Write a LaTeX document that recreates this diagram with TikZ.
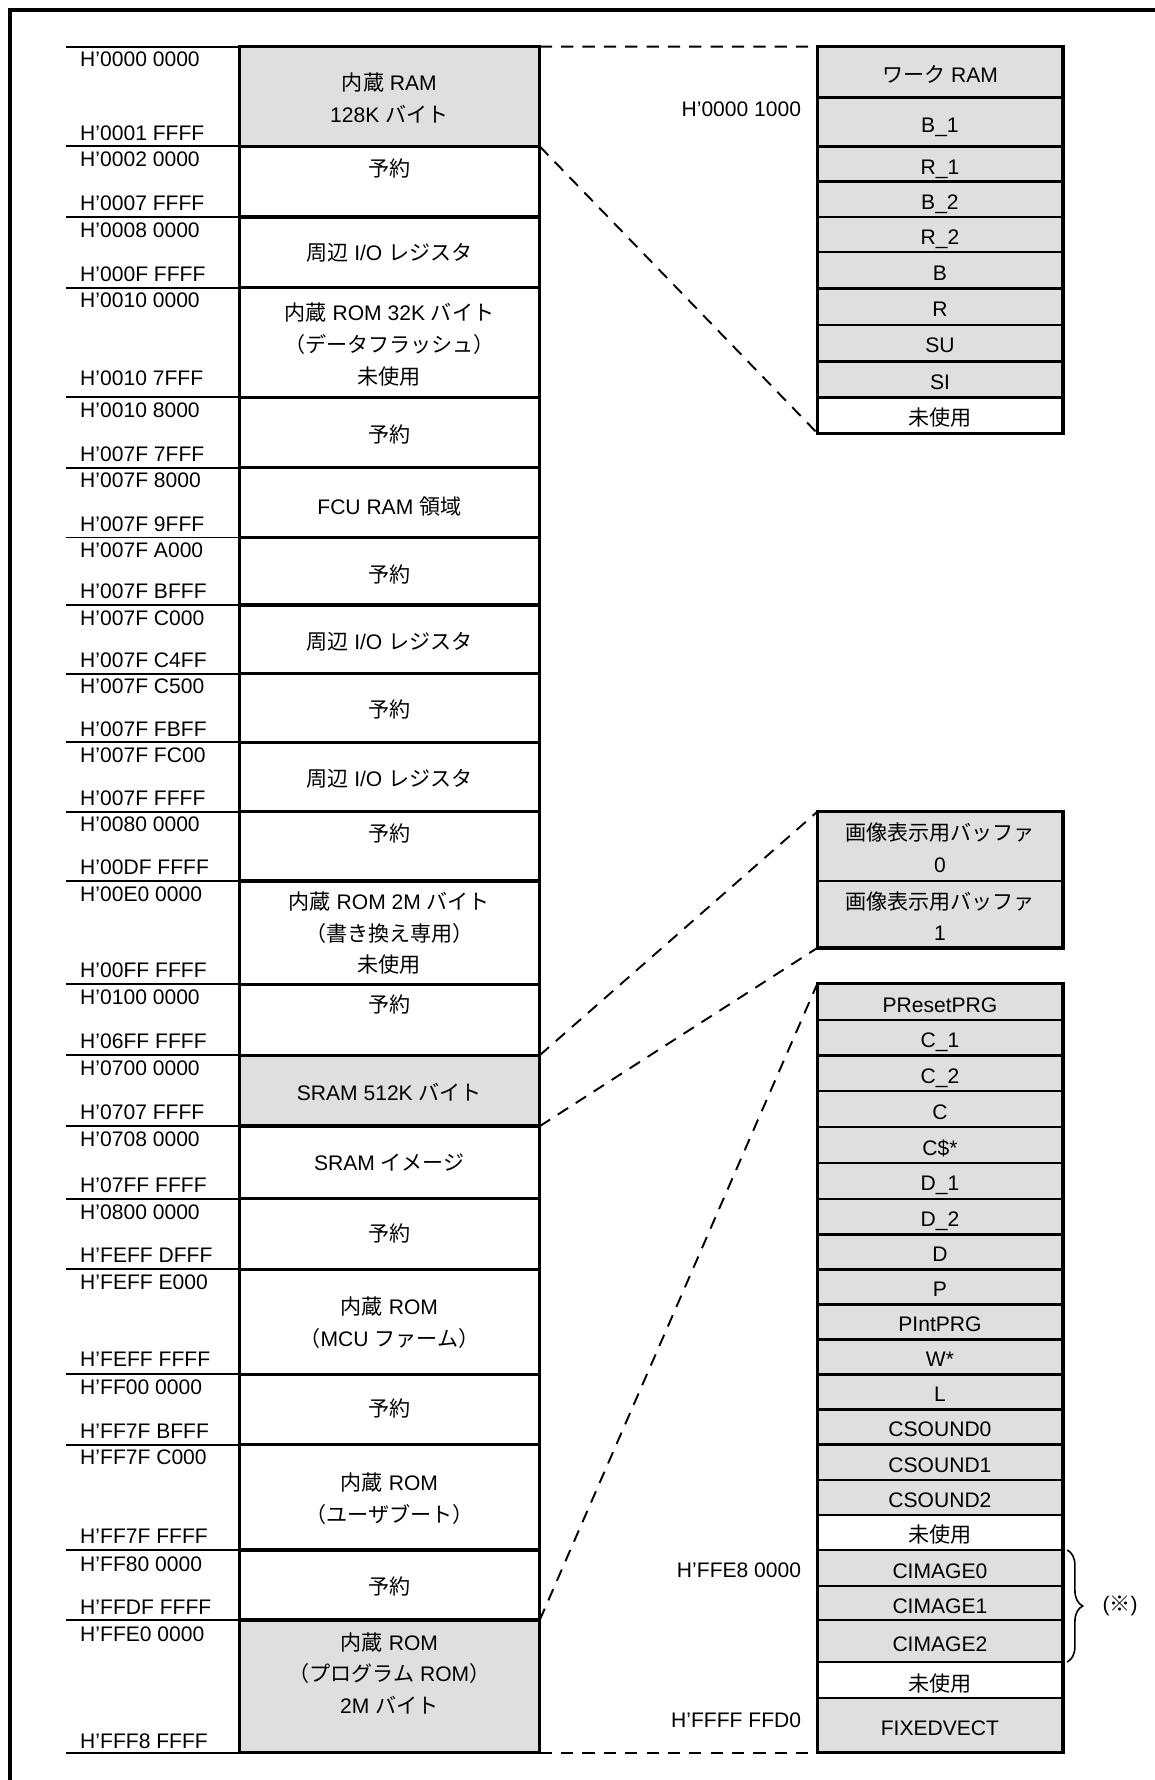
\documentclass[tikz,border=0pt]{standalone}
\usepackage{fontspec}
\setmainfont{Liberation Sans}
\newfontfamily\jpfont{Noto Sans CJK JP}
\newcommand{\jp}[1]{{\jpfont #1}}
\usetikzlibrary{fit,decorations.pathreplacing}
\definecolor{memgray}{RGB}{223,223,223}
\tikzset{
	memfont/.style={font=\fontsize{13.2pt}{19.9pt}\selectfont},
	area/.style={rectangle, draw, line width=2.1pt, inner sep=0pt, outer sep=0pt},
	areatext/.style={memfont, align=center, inner sep=0pt},
	slot/.style={rectangle, draw, line width=1.5pt, inner sep=0pt, outer sep=0pt, fill=memgray},
	freeslot/.style={slot, fill=white},
	slottext/.style={memfont, inner sep=0pt, text height=9.45pt, text depth=0pt},
	outline/.style={rectangle, draw, line width=2.1pt, inner sep=0pt, outer sep=0pt},
	addr/.style={memfont, anchor=base west, inner sep=0pt},
	raddr/.style={memfont, anchor=base east, inner sep=0pt},
	addrrule/.style={line width=1.2pt},
	frame/.style={line width=2.5pt},
	zoomline/.style={line width=1.2pt, dash pattern=on 0.27cm off 0.2cm},
	bracket/.style={line width=1pt, decorate, decoration={brace, amplitude=0.34cm}}
}
\begin{document}
\begin{tikzpicture}[x=0.025cm, y=-0.025cm]
	\useasboundingbox (0,0) rectangle (1017,1568);
	\draw[frame] (1017,8.8) -| (8.5,1568);

	% address rules left of the map
	\draw[addrrule] (58,41) -- (211,41) (58,129) -- (211,129) (58,191) -- (211,191) (58,253.5) -- (211,253.5)
		(58,350) -- (211,350) (58,412) -- (211,412) (58,473.5) -- (211,473.5) (58,533) -- (211,533)
		(58,593.5) -- (211,593.5) (58,654) -- (211,654) (58,715) -- (211,715) (58,776) -- (211,776)
		(58,867) -- (211,867) (58,929.5) -- (211,929.5) (58,992) -- (211,992) (58,1056) -- (211,1056)
		(58,1118) -- (211,1118) (58,1210.5) -- (211,1210.5) (58,1272.5) -- (211,1272.5) (58,1365.5) -- (211,1365.5)
		(58,1427) -- (211,1427) (58,1544) -- (211,1544);

	% memory map
	\node (ram) [area, fill=memgray, fit={(211,41) (475.5,129)}] {};
	\node (rsv1) [area, fit={(211,129) (475.5,191)}] {};
	\node (io1) [area, fit={(211,191) (475.5,253.5)}] {};
	\node (dflash) [area, fit={(211,253.5) (475.5,350)}] {};
	\node (rsv2) [area, fit={(211,350) (475.5,412)}] {};
	\node (fcu) [area, fit={(211,412) (475.5,473.5)}] {};
	\node (rsv3) [area, fit={(211,473.5) (475.5,533)}] {};
	\node (io2) [area, fit={(211,533) (475.5,593.5)}] {};
	\node (rsv4) [area, fit={(211,593.5) (475.5,654)}] {};
	\node (io3) [area, fit={(211,654) (475.5,715)}] {};
	\node (rsv5) [area, fit={(211,715) (475.5,776)}] {};
	\node (romtwo) [area, fit={(211,776) (475.5,867)}] {};
	\node (rsv6) [area, fit={(211,867) (475.5,929.5)}] {};
	\node (sram) [area, fill=memgray, fit={(211,929.5) (475.5,992)}] {};
	\node (sramimg) [area, fit={(211,992) (475.5,1056)}] {};
	\node (rsv7) [area, fit={(211,1056) (475.5,1118)}] {};
	\node (mcurom) [area, fit={(211,1118) (475.5,1210.5)}] {};
	\node (rsv8) [area, fit={(211,1210.5) (475.5,1272.5)}] {};
	\node (bootrom) [area, fit={(211,1272.5) (475.5,1365.5)}] {};
	\node (rsv9) [area, fit={(211,1365.5) (475.5,1427)}] {};
	\node (prgrom) [area, fill=memgray, fit={(211,1427) (475.5,1544)}] {};

	\node (ramtxt) [areatext] at (343,86) {\jp{内蔵} RAM\\128K \jp{バイト}};
	\node (rsv1txt) [areatext] at (343,148) {\jp{予約}};
	\node (io1txt) [areatext] at (343,223) {\jp{周辺} I/O \jp{レジスタ}};
	\node (dflashtxt) [areatext] at (343,303.5) {\jp{内蔵} ROM 32K \jp{バイト}\\\jp{（データフラッシュ）}\\\jp{未使用}};
	\node (rsv2txt) [areatext] at (343,383) {\jp{予約}};
	\node (fcutxt) [areatext] at (343,446) {FCU RAM \jp{領域}};
	\node (rsv3txt) [areatext] at (343,506) {\jp{予約}};
	\node (io2txt) [areatext] at (343,565) {\jp{周辺} I/O \jp{レジスタ}};
	\node (rsv4txt) [areatext] at (343,625) {\jp{予約}};
	\node (io3txt) [areatext] at (343,686) {\jp{周辺} I/O \jp{レジスタ}};
	\node (rsv5txt) [areatext] at (343,734) {\jp{予約}};
	\node (romtwotxt) [areatext] at (343,822) {\jp{内蔵} ROM 2M \jp{バイト}\\\jp{（書き換え専用）}\\\jp{未使用}};
	\node (rsv6txt) [areatext] at (343,885) {\jp{予約}};
	\node (sramtxt) [areatext] at (343,962) {SRAM 512K \jp{バイト}};
	\node (sramimgtxt) [areatext] at (343,1024) {SRAM \jp{イメージ}};
	\node (rsv7txt) [areatext] at (343,1087) {\jp{予約}};
	\node (mcuromtxt) [areatext] at (343,1165) {\jp{内蔵} ROM\\\jp{（}MCU \jp{ファーム）}};
	\node (rsv8txt) [areatext] at (343,1241) {\jp{予約}};
	\node (bootromtxt) [areatext] at (343,1320) {\jp{内蔵} ROM\\\jp{（ユーザブート）}};
	\node (rsv9txt) [areatext] at (343,1397.5) {\jp{予約}};
	\node (prgromtxt) [areatext] at (343,1474) {\jp{内蔵} ROM\\\jp{（プログラム} ROM\jp{）}\\2M \jp{バイト}};

	% start and end addresses
	\node (a1s) [addr] at (70.4,58.8) {H’0000 0000};
	\node (a1e) [addr] at (70.4,123.5) {H’0001 FFFF};
	\node (a2s) [addr] at (70.4,146.8) {H’0002 0000};
	\node (a2e) [addr] at (70.4,185.5) {H’0007 FFFF};
	\node (a3s) [addr] at (70.4,208.8) {H’0008 0000};
	\node (a3e) [addr] at (70.4,248) {H’000F FFFF};
	\node (a4s) [addr] at (70.4,271.3) {H’0010 0000};
	\node (a4e) [addr] at (70.4,340) {H’0010 7FFF};
	\node (a5s) [addr] at (70.4,367.8) {H’0010 8000};
	\node (a5e) [addr] at (70.4,406.5) {H’007F 7FFF};
	\node (a6s) [addr] at (70.4,429.8) {H’007F 8000};
	\node (a6e) [addr] at (70.4,468) {H’007F 9FFF};
	\node (a7s) [addr] at (70.4,491.3) {H’007F A000};
	\node (a7e) [addr] at (70.4,527.5) {H’007F BFFF};
	\node (a8s) [addr] at (70.4,550.8) {H’007F C000};
	\node (a8e) [addr] at (70.4,588) {H’007F C4FF};
	\node (a9s) [addr] at (70.4,611.3) {H’007F C500};
	\node (a9e) [addr] at (70.4,648.5) {H’007F FBFF};
	\node (a10s) [addr] at (70.4,671.8) {H’007F FC00};
	\node (a10e) [addr] at (70.4,709.5) {H’007F FFFF};
	\node (a11s) [addr] at (70.4,732.8) {H’0080 0000};
	\node (a11e) [addr] at (70.4,770.5) {H’00DF FFFF};
	\node (a12s) [addr] at (70.4,793.8) {H’00E0 0000};
	\node (a12e) [addr] at (70.4,861.5) {H’00FF FFFF};
	\node (a13s) [addr] at (70.4,884.8) {H’0100 0000};
	\node (a13e) [addr] at (70.4,924) {H’06FF FFFF};
	\node (a14s) [addr] at (70.4,947.3) {H’0700 0000};
	\node (a14e) [addr] at (70.4,986.5) {H’0707 FFFF};
	\node (a15s) [addr] at (70.4,1009.8) {H’0708 0000};
	\node (a15e) [addr] at (70.4,1050.5) {H’07FF FFFF};
	\node (a16s) [addr] at (70.4,1073.8) {H’0800 0000};
	\node (a16e) [addr] at (70.4,1112.5) {H’FEFF DFFF};
	\node (a17s) [addr] at (70.4,1135.8) {H’FEFF E000};
	\node (a17e) [addr] at (70.4,1204) {H’FEFF FFFF};
	\node (a18s) [addr] at (70.4,1228.3) {H’FF00 0000};
	\node (a18e) [addr] at (70.4,1267) {H’FF7F BFFF};
	\node (a19s) [addr] at (70.4,1290.3) {H’FF7F C000};
	\node (a19e) [addr] at (70.4,1359.5) {H’FF7F FFFF};
	\node (a20s) [addr] at (70.4,1384) {H’FF80 0000};
	\node (a20e) [addr] at (70.4,1422) {H’FFDF FFFF};
	\node (a21s) [addr] at (70.4,1446) {H’FFE0 0000};
	\node (a21e) [addr] at (70.4,1540) {H’FFF8 FFFF};

	% RAM detail
	\node (work) [slot, fit={(720,41) (936.5,86)}] {};
	\node (b1) [slot, fit={(720,86) (936.5,129)}] {};
	\node (r1) [slot, fit={(720,129) (936.5,160)}] {};
	\node (b2) [slot, fit={(720,160) (936.5,191.4)}] {};
	\node (r2) [slot, fit={(720,191.4) (936.5,222.2)}] {};
	\node (b) [slot, fit={(720,222.2) (936.5,254)}] {};
	\node (r) [slot, fit={(720,254) (936.5,286.2)}] {};
	\node (su) [slot, fit={(720,286.2) (936.5,318.5)}] {};
	\node (si) [slot, fit={(720,318.5) (936.5,350)}] {};
	\node (unused1) [freeslot, fit={(720,350) (936.5,381.6)}] {};
	\node (ramdetail) [outline, fit=(work) (unused1)] {};

	\node (worktxt) [slottext] at (828,66) {\jp{ワーク} RAM};
	\node (b1txt) [slottext] at (828,110) {B\_1};
	\node (r1txt) [slottext] at (828,147) {R\_1};
	\node (b2txt) [slottext] at (828,178) {B\_2};
	\node (r2txt) [slottext] at (828,209) {R\_2};
	\node (btxt) [slottext] at (828,240.5) {B};
	\node (rtxt) [slottext] at (828,272.5) {R};
	\node (sutxt) [slottext] at (828,304) {SU};
	\node (sitxt) [slottext] at (828,336.5) {SI};
	\node (unused1txt) [slottext] at (828,368) {\jp{未使用}};
	\node (ramaddr) [raddr] at (706,102.7) {H’0000 1000};

	% SRAM detail
	\node (buf0) [slot, fit={(720,715) (936.5,776)}] {};
	\node (buf1) [slot, fit={(720,776) (936.5,835)}] {};
	\node (sramdetail) [outline, fit=(buf0) (buf1)] {};
	\node (buf0txt) [areatext] at (828,747) {\jp{画像表示用バッファ}\\0};
	\node (buf1txt) [areatext] at (828,807) {\jp{画像表示用バッファ}\\1};

	% program ROM detail
	\node (preset) [slot, fit={(720,866.5) (936.5,898.7)}] {};
	\node (c1) [slot, fit={(720,898.7) (936.5,929.8)}] {};
	\node (c2) [slot, fit={(720,929.8) (936.5,961.2)}] {};
	\node (c) [slot, fit={(720,961.2) (936.5,992.6)}] {};
	\node (cdollar) [slot, fit={(720,992.6) (936.5,1024.3)}] {};
	\node (d1) [slot, fit={(720,1024.3) (936.5,1056)}] {};
	\node (d2) [slot, fit={(720,1056) (936.5,1087.4)}] {};
	\node (d) [slot, fit={(720,1087.4) (936.5,1118.2)}] {};
	\node (p) [slot, fit={(720,1118.2) (936.5,1149)}] {};
	\node (pint) [slot, fit={(720,1149) (936.5,1179.9)}] {};
	\node (w) [slot, fit={(720,1179.9) (936.5,1210.7)}] {};
	\node (l) [slot, fit={(720,1210.7) (936.5,1241.5)}] {};
	\node (cs0) [slot, fit={(720,1241.5) (936.5,1272.4)}] {};
	\node (cs1) [slot, fit={(720,1272.4) (936.5,1303.8)}] {};
	\node (cs2) [slot, fit={(720,1303.8) (936.5,1334.8)}] {};
	\node (unused2) [freeslot, fit={(720,1334.8) (936.5,1365.4)}] {};
	\node (cim0) [slot, fit={(720,1365.4) (936.5,1397)}] {};
	\node (cim1) [slot, fit={(720,1397) (936.5,1427)}] {};
	\node (cim2) [slot, fit={(720,1427) (936.5,1464)}] {};
	\node (unused3) [freeslot, fit={(720,1464) (936.5,1496)}] {};
	\node (fixvect) [slot, fit={(720,1496) (936.5,1544)}] {};
	\node (romdetail) [outline, fit=(preset) (fixvect)] {};

	\node (presettxt) [slottext] at (828,885) {PResetPRG};
	\node (c1txt) [slottext] at (828,916.5) {C\_1};
	\node (c2txt) [slottext] at (828,948) {C\_2};
	\node (ctxt) [slottext] at (828,979.5) {C};
	\node (cdollartxt) [slottext] at (828,1011) {C\$*};
	\node (d1txt) [slottext] at (828,1042) {D\_1};
	\node (d2txt) [slottext] at (828,1073.5) {D\_2};
	\node (dtxt) [slottext] at (828,1104.5) {D};
	\node (ptxt) [slottext] at (828,1135.5) {P};
	\node (pinttxt) [slottext] at (828,1166.5) {PIntPRG};
	\node (wtxt) [slottext] at (828,1197) {W*};
	\node (ltxt) [slottext] at (828,1228) {L};
	\node (cs0txt) [slottext] at (828,1259) {CSOUND0};
	\node (cs1txt) [slottext] at (828,1290.5) {CSOUND1};
	\node (cs2txt) [slottext] at (828,1321.5) {CSOUND2};
	\node (unused2txt) [slottext] at (828,1352) {\jp{未使用}};
	\node (cim0txt) [slottext] at (828,1384) {CIMAGE0};
	\node (cim1txt) [slottext] at (828,1414.5) {CIMAGE1};
	\node (cim2txt) [slottext] at (828,1448) {CIMAGE2};
	\node (unused3txt) [slottext] at (828,1483) {\jp{未使用}};
	\node (fixvecttxt) [slottext] at (828,1522.5) {FIXEDVECT};
	\node (cimaddr) [raddr] at (706,1389.7) {H’FFE8 0000};
	\node (vectaddr) [raddr] at (706,1521.8) {H’FFFF FFD0};

	\draw[bracket] ([xshift=0.09cm]cim0.north east) -- ([xshift=0.09cm]cim2.south east);
	\node (note) [memfont, anchor=west, inner sep=0pt] at (971,1414.5) {(\jp{※})};

	% zoom lines
	\draw[zoomline] (ram.north east) -- (work.north west);
	\draw[zoomline] (ram.south east) -- (unused1.south west);
	\draw[zoomline] (sram.north east) -- (buf0.north west);
	\draw[zoomline] (sram.south east) -- (buf1.south west);
	\draw[zoomline] (prgrom.north east) -- (preset.north west);
	\draw[zoomline] (prgrom.south east) -- (fixvect.south west);
\end{tikzpicture}
\end{document}
